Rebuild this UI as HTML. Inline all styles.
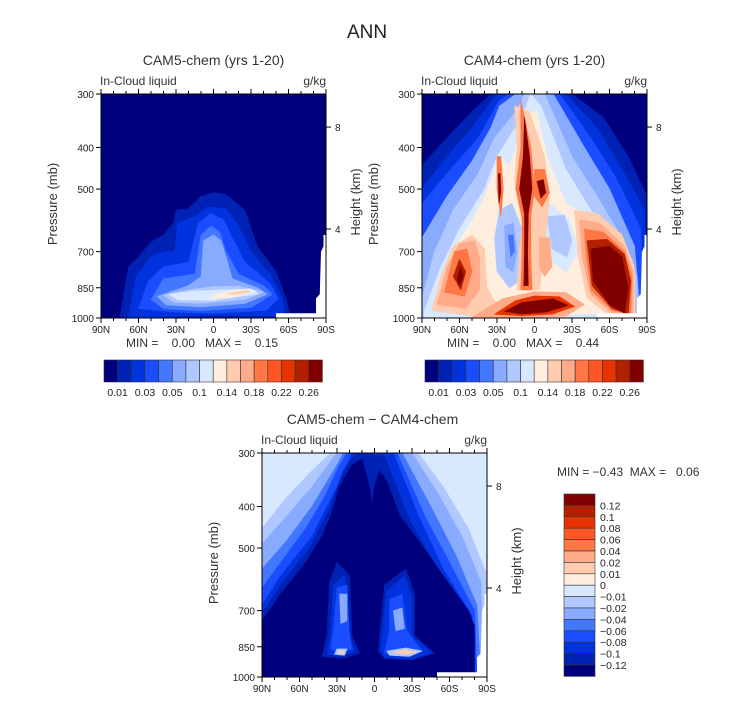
<!DOCTYPE html>
<html><head><meta charset="utf-8"><style>
html,body{margin:0;padding:0;background:#fff}
svg{display:block;font-family:"Liberation Sans",sans-serif}
text{white-space:pre}
</style></head><body>
<svg id="fig" width="733" height="702" viewBox="0 0 733 702">
<text x="367" y="38" font-size="19" text-anchor="middle" fill="#222">ANN</text>
</svg>
<script>
// ---- data ----
const latTicks = [90, 60, 30, 0, -30, -60, -90];
const latTickLabels = ["90N", "60N", "30N", "0", "30S", "60S", "90S"];
const presTicks = [300, 400, 500, 700, 850, 1000];
const heightTicks = [8, 4];
const absColors = ["#00007f","#0022b4","#0033dd","#1a4dff","#4477ff","#88aaff","#b0c8ff","#d8e8ff","#ffeedd","#ffccb0","#ffaa88","#ff7744","#ff5522","#e63300","#b32000","#800000"];
const absLabels = ["0.01","0.03","0.05","0.1","0.14","0.18","0.22","0.26"];
const diffColors = ["#800000","#b32000","#e63300","#ff5522","#ff7744","#ffaa88","#ffccb0","#ffeedd","#d8e8ff","#b0c8ff","#88aaff","#4477ff","#1a4dff","#0033dd","#0022b4","#00007f"];
const diffLabels = ["0.12","0.1","0.08","0.06","0.04","0.02","0.01","0","\u22120.01","\u22120.02","\u22120.04","\u22120.06","\u22120.08","\u22120.1","\u22120.12"];
const missing = [[-50,975],[-82,975],[-82,900],[-85,880],[-86,700],[-88,680],[-88,640],[-90,640],[-90,1000],[-50,1000]];
// contour regions: [colourIndex, [[lat, pressure], ...]]
const cam5Regions = [
 [1, [[75,1000],[68,760],[60,720],[50,665],[40,640],[32,600],[30,560],[20,555],[10,520],[0,510],[-10,515],[-25,560],[-35,680],[-50,780],[-58,900],[-62,1000]]],
 [2, [[68,1000],[62,800],[50,720],[40,700],[31,700],[29,600],[15,580],[5,550],[-10,555],[-20,610],[-30,700],[-45,790],[-55,900],[-57,990],[0,985]]],
 [3, [[60,950],[52,820],[40,760],[20,740],[12,600],[2,570],[-8,590],[-15,650],[-25,740],[-45,830],[-52,900],[-42,960],[0,975],[30,970]]],
 [4, [[50,905],[40,810],[15,790],[10,640],[2,610],[-5,630],[-10,700],[-20,790],[-40,840],[-47,880],[-30,945],[10,962],[40,952]]],
 [5, [[45,890],[20,840],[10,800],[8,660],[0,640],[-6,660],[-10,720],[-15,810],[-35,850],[-43,880],[-25,925],[10,942],[38,932]]],
 [6, [[40,885],[20,860],[0,845],[-20,842],[-40,870],[-25,905],[10,925],[32,918]]],
 [7, [[36,880],[15,865],[-30,855],[-36,878],[0,910],[28,908]]],
 [8, [[3,900],[-2,880],[-20,860],[-33,864],[-15,893]]],
 [9, [[-10,878],[-25,863],[-30,867],[-18,882]]]
];
const cam4Regions = [
 [1, [[90,440],[70,380],[50,330],[35,300],[-30,300],[-55,340],[-75,420],[-90,520],[-90,1000],[90,1000]]],
 [2, [[90,500],[70,420],[50,360],[30,300],[-25,300],[-50,360],[-70,450],[-88,560],[-90,1000],[90,1000]]],
 [3, [[90,540],[70,460],[45,380],[28,310],[20,300],[-20,300],[-45,380],[-65,470],[-85,620],[-88,1000],[90,1000]]],
 [5, [[90,650],[70,520],[50,430],[35,360],[28,320],[15,300],[-15,300],[-40,400],[-60,500],[-80,680],[-85,1000],[90,1000]]],
 [6, [[90,900],[80,700],[65,560],[45,460],[32,380],[15,330],[8,300],[-8,300],[-30,420],[-50,520],[-70,650],[-82,800],[-82,1000],[90,1000]]],
 [7, [[88,960],[75,760],[60,620],[40,500],[30,420],[10,340],[3,300],[-5,320],[-25,450],[-45,560],[-70,680],[-80,900],[-80,1000],[88,1000]]],
 [8, [[82,960],[72,800],[60,660],[45,560],[35,480],[28,420],[20,440],[15,400],[10,330],[-2,330],[-10,420],[-25,540],[-45,580],[-65,650],[-78,730],[-80,965],[0,990]]],
 [6, [[28,560],[18,540],[10,620],[12,820],[20,850],[30,780],[32,650]]],
 [5, [[24,610],[17,600],[14,700],[17,780],[23,760]]],
 [4, [[21,640],[17,640],[16,700],[19,720]]],
 [7, [[-2,560],[-12,540],[-28,590],[-35,700],[-25,780],[-8,720]]],
 [6, [[-10,580],[-24,575],[-30,660],[-26,720],[-14,690]]],
 [9, [[82,960],[75,800],[65,680],[50,640],[40,690],[38,850],[30,930],[50,990]]],
 [10, [[78,930],[70,760],[60,670],[48,660],[44,720],[44,860],[55,950]]],
 [11, [[72,870],[64,700],[54,690],[50,780],[56,890]]],
 [14, [[65,800],[60,730],[55,780],[59,860]]],
 [15, [[62,810],[59,760],[57,800],[60,840]]],
 [11, [[30,420],[27,420],[25,500],[27,580],[30,500]]],
 [15, [[29,460],[27.5,460],[27,510],[28.5,540]]],
 [9, [[16,320],[4,330],[-8,420],[-12,520],[-8,700],[-4,860],[14,860],[12,700],[10,600],[16,480],[14,400]]],
 [11, [[11,310],[3,400],[0,500],[3,580],[3,700],[2,860],[11,860],[10,700],[10,580],[15,500],[11,400]]],
 [15, [[8,340],[4,420],[2,500],[5,570],[5.5,700],[5,840],[8.5,840],[8,700],[8,570],[12,500],[9,420]]],
 [11, [[0,450],[-8,450],[-12,510],[-6,550],[0,520]]],
 [15, [[-2,480],[-7,475],[-9,510],[-5,525]]],
 [10, [[-4,650],[-12,650],[-14,760],[-8,800],[-4,760]]],
 [9, [[-32,560],[-50,570],[-70,640],[-80,760],[-80,990],[-60,985],[-42,900],[-35,720]]],
 [10, [[-36,590],[-52,600],[-72,680],[-79,780],[-79,985],[-62,975],[-45,880],[-38,720]]],
 [11, [[-40,620],[-55,630],[-72,700],[-78,800],[-77,980],[-62,960],[-45,860],[-41,700]]],
 [14, [[-42,660],[-58,655],[-72,710],[-77,820],[-75,978],[-62,950],[-46,840]]],
 [15, [[-45,690],[-60,680],[-70,720],[-75,850],[-72,975],[-60,930],[-47,820]]],
 [10, [[50,995],[25,900],[0,868],[-25,872],[-40,930],[-25,990],[0,997]]],
 [13, [[32,980],[15,910],[0,888],[-20,892],[-32,940],[-15,978],[10,988]]],
 [15, [[24,965],[10,920],[-15,902],[-27,935],[-10,968],[10,978]]]
];
const diffRegions = [
 [9, [[90,450],[70,380],[50,330],[35,300],[-35,300],[-55,360],[-75,450],[-88,560],[-90,570],[-90,1000],[90,1000]]],
 [10, [[90,490],[70,420],[50,360],[32,305],[30,300],[-30,300],[-50,370],[-70,470],[-85,600],[-88,1000],[90,1000]]],
 [11, [[90,560],[70,480],[50,400],[30,320],[25,300],[-22,300],[-45,400],[-65,520],[-82,680],[-85,1000],[90,1000]]],
 [12, [[90,620],[75,540],[55,450],[40,380],[28,320],[22,300],[-18,300],[-40,420],[-60,540],[-80,700],[-82,1000],[90,1000]]],
 [13, [[90,680],[75,580],[50,470],[30,360],[18,300],[-15,300],[-35,420],[-55,560],[-78,720],[-80,1000],[90,1000]]],
 [14, [[90,710],[75,610],[52,500],[35,400],[25,330],[14,300],[-8,305],[-28,430],[-52,570],[-76,740],[-80,1000],[90,1000]]],
 [15, [[90,1000],[90,740],[75,640],[55,540],[42,470],[35,420],[28,360],[18,320],[10,310],[4,360],[2,400],[0,360],[-4,330],[-10,350],[-20,420],[-35,480],[-55,580],[-75,700],[-80,760],[-80,1000]]],
 [14, [[36,600],[30,540],[20,580],[18,800],[12,880],[25,905],[42,895],[38,800]]],
 [13, [[33,610],[24,580],[20,790],[16,870],[27,895],[38,885],[35,780]]],
 [12, [[30,620],[22,610],[20,800],[18,860],[28,880],[35,860],[33,780]]],
 [10, [[28,640],[22,640],[22,740],[27,750]]],
 [9, [[30,860],[22,860],[24,890],[32,885]]],
 [6, [[28,870],[24,870],[25,882],[29,880]]],
 [14, [[-8,610],[-25,560],[-32,640],[-32,800],[-48,880],[-30,912],[-8,905],[-3,870],[-6,700]]],
 [13, [[-10,630],[-24,580],[-30,650],[-30,800],[-45,878],[-30,908],[-8,900],[-5,870],[-8,700]]],
 [12, [[-12,660],[-22,640],[-26,780],[-38,870],[-25,895],[-8,880],[-12,780]]],
 [10, [[-15,700],[-22,690],[-24,770],[-17,780]]],
 [9, [[-10,870],[-25,855],[-38,870],[-28,895],[-12,890]]],
 [6, [[-15,875],[-25,865],[-33,875],[-24,885]]]
];
const panelMinMax = [["0.00","0.15"],["0.00","0.44"],["\u22120.43","0.06"]];

// ---- drawing ----
const NS = "http://www.w3.org/2000/svg";
const svg = document.getElementById("fig");
function mk(tag, attrs, parent) { const e = document.createElementNS(NS, tag); for (const k in attrs) e.setAttribute(k, attrs[k]); (parent || svg).appendChild(e); return e; }
function axes(x0, y0) {
  const W = 225, H = 224;
  const ly = p => Math.log(p / 300) / Math.log(1000 / 300) * H;
  return { W, H, x0, y0,
    x: lat => x0 + (90 - lat) / 180 * W,
    y: p => y0 + ly(p),
    yh: h => y0 + ly(1072 * Math.exp(-h / 7.3)) };
}
function panel(name, x0, y0, regions, colors, title, mm, showBar) {
  const a = axes(x0, y0);
  const g = mk("g", {});
  
  
  const clip = mk("clipPath", { id: name + "-clip" }, g);
  mk("rect", { x: x0, y: y0, width: a.W, height: a.H }, clip);
  const plot = mk("g", { "clip-path": "url(#" + name + "-clip)" }, g);
  const bg = mk("rect", { x: x0, y: y0, width: a.W, height: a.H, fill: name === "diff-panel" ? colors[8] : colors[0] }, plot);
  
  
  regions.forEach((r, i) => {
    const pts = r[1].map(q => a.x(q[0]).toFixed(1) + "," + a.y(q[1]).toFixed(1)).join(" ");
    const poly = mk("polygon", { points: pts, fill: colors[r[0]], stroke: colors[r[0]], "stroke-width": 0.6, "stroke-linejoin": "round" }, plot);
    
    
  });
  const miss = mk("polygon", { points: missing.map(q => a.x(q[0]) + "," + a.y(q[1])).join(" "), fill: "#fff" }, plot);
  
  
  const frame = mk("rect", { x: x0, y: y0, width: a.W, height: a.H, fill: "none", stroke: "#000", "stroke-width": 1 }, g);
  
  
  for (let l = 90; l >= -90; l -= 10) {
    const X = a.x(l), major = l % 30 === 0;
    mk("line", { x1: X, x2: X, y1: y0 + a.H, y2: y0 + a.H + (major ? 5 : 3), stroke: "#000" }, g);
    mk("line", { x1: X, x2: X, y1: y0, y2: y0 - (major ? 5 : 3), stroke: "#000" }, g);
  }
  latTicks.forEach((l, i) => {
    const t = mk("text", { x: a.x(l), y: y0 + a.H + 15, "font-size": 10, "text-anchor": "middle", fill: "#222" }, g);
    t.textContent = latTickLabels[i];
    
    
  });
  presTicks.forEach(p => {
    const Y = a.y(p);
    mk("line", { x1: x0 - 5, x2: x0, y1: Y, y2: Y, stroke: "#000" }, g);
    const t = mk("text", { x: x0 - 7, y: Y + 4, "font-size": 10, "text-anchor": "end", fill: "#222" }, g);
    t.textContent = p;
    
    
  });
  heightTicks.forEach(h => {
    const Y = a.yh(h);
    mk("line", { x1: x0 + a.W, x2: x0 + a.W + 5, y1: Y, y2: Y, stroke: "#000" }, g);
    const t = mk("text", { x: x0 + a.W + 9, y: Y + 4, "font-size": 10, fill: "#222" }, g);
    t.textContent = h;
    
    
  });
  const yt = mk("text", { x: 0, y: 0, "font-size": 13, "text-anchor": "middle", fill: "#333", transform: "translate(" + (x0 - 44) + "," + (y0 + 110) + ") rotate(-90)" }, g);
  yt.textContent = "Pressure (mb)";
  
  
  const ht = mk("text", { x: 0, y: 0, "font-size": 13, "text-anchor": "middle", fill: "#333", transform: "translate(" + (x0 + a.W + 34) + "," + (y0 + 108) + ") rotate(-90)" }, g);
  ht.textContent = "Height (km)";
  
  
  const tt = mk("text", { x: x0 + a.W / 2 + (name === "diff-panel" ? -2 : 0), y: y0 - 29, "font-size": 14, "text-anchor": "middle", fill: "#333" }, g);
  tt.textContent = title;
  
  
  const vl = mk("text", { x: x0 - 1, y: y0 - 9, "font-size": 12, fill: "#333" }, g);
  vl.textContent = "In-Cloud liquid";
  
  
  const ul = mk("text", { x: x0 + a.W, y: y0 - 9, "font-size": 12, "text-anchor": "end", fill: "#333" }, g);
  ul.textContent = "g/kg";
  
  
  if (showBar) {
    const mmT = mk("text", { x: x0 + 25, y: y0 + a.H + 29, "font-size": 12, fill: "#333" }, g);
    mmT.textContent = "MIN =    " + mm[0] + "   MAX =    " + mm[1];
    
    
    const bx = x0 + 3, by = y0 + a.H + 42, cw = 13.65, bh = 22;
    colors.forEach((c, i) => {
      const r = mk("rect", { x: bx + i * cw, y: by, width: cw, height: bh, fill: c, stroke: "#333", "stroke-width": 0.6 }, g);
      
      
    });
    absLabels.forEach((lb, i) => {
      const t = mk("text", { x: bx + (2 * i + 1) * cw, y: by + bh + 14, "font-size": 10.5, "text-anchor": "middle", fill: "#222" }, g);
      t.textContent = lb;
      
      
    });
  }
  return a;
}
panel("cam5-panel", 101, 94, cam5Regions, absColors, "CAM5-chem (yrs 1-20)", panelMinMax[0], true);
panel("cam4-panel", 422, 94, cam4Regions, absColors, "CAM4-chem (yrs 1-20)", panelMinMax[1], true);
panel("diff-panel", 262, 453, diffRegions, diffColors, "CAM5-chem \u2212 CAM4-chem", panelMinMax[2], false);
const dmm = mk("text", { x: 557, y: 476, "font-size": 12, fill: "#333" });
dmm.textContent = "MIN = " + panelMinMax[2][0] + "  MAX =   " + panelMinMax[2][1];


const vbx = 564, vby = 494, vch = 11.4, vw = 31;
diffColors.forEach((c, i) => {
  const r = mk("rect", { x: vbx, y: vby + i * vch, width: vw, height: vch, fill: c, stroke: "#333", "stroke-width": 0.6 });
  
  
});
diffLabels.forEach((lb, i) => {
  const t = mk("text", { x: 600, y: vby + (i + 1) * vch + 4, "font-size": 10.5, fill: "#222" });
  t.textContent = lb;
  
  
});
</script>
</body></html>
